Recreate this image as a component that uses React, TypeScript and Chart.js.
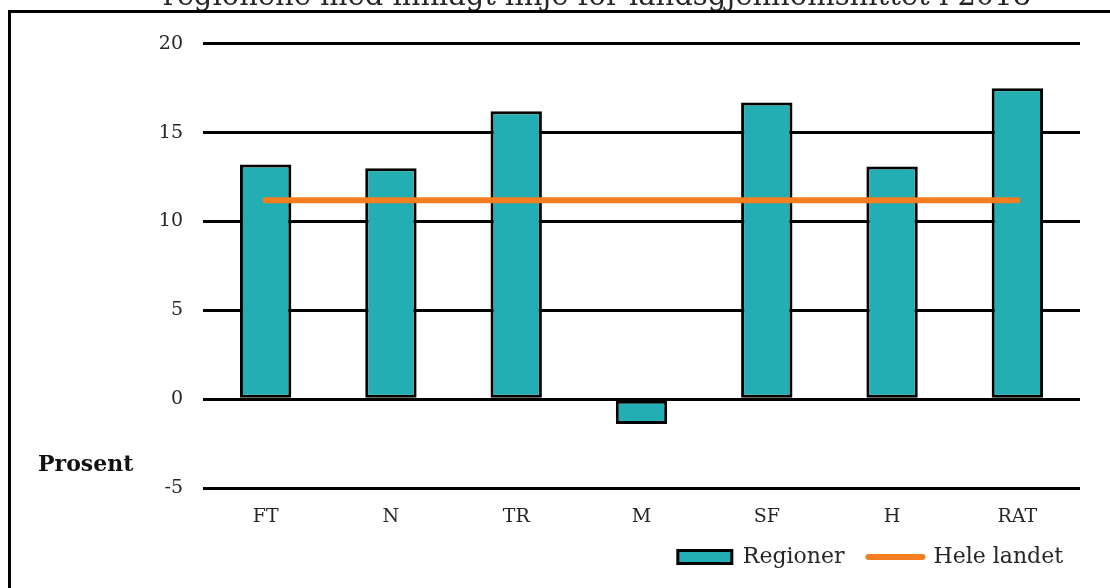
import React, { useEffect, useRef } from 'react';
import { Chart, registerables } from 'chart.js';

Chart.register(...registerables);

const titleText = 'regionene med innlagt linje for landsgjennomsnittet i 2018';
const categories = ['FT', 'N', 'TR', 'M', 'SF', 'H', 'RAT'];
const regionValues = [13.2, 13.0, 16.2, -1.4, 16.7, 13.1, 17.5];
const nationalValues = [11.2, 11.2, 11.2, 11.2, 11.2, 11.2, 11.2];
const seriesNames = ['Regioner', 'Hele landet'];
const yAxisLabel = 'Prosent';
const yMin = -5;
const yMax = 20;
const yStep = 5;

const FONT = '"DejaVu Serif", "Liberation Serif", serif';
const TEAL = '#22AEB2';
const ORANGE = '#F57E20';
const TEXT = '#262626';

export default function App() {
  const canvasRef = useRef<HTMLCanvasElement>(null);

  useEffect(() => {
    if (!canvasRef.current) return;

    const yLabelPlugin = {
      id: 'yLabelPlugin',
      afterDraw(chart: any) {
        const { ctx, chartArea } = chart;
        ctx.save();
        ctx.font = `bold 22px ${FONT}`;
        ctx.fillStyle = '#111';
        ctx.textAlign = 'left';
        ctx.textBaseline = 'middle';
        ctx.fillText(yAxisLabel, chartArea.left - 165, chartArea.bottom - 23);
        ctx.restore();
      },
    };

    const layoutTweak = {
      id: 'layoutTweak',
      afterLayout(chart: any) {
        const l = chart.legend;
        if (l) {
          l.left += 7;
          l.right += 7;
        }
        const x = chart.scales.x;
        if (x) {
          x.bottom = x.top + 50;
        }
      },
    };

    const chart = new Chart(canvasRef.current, {
      type: 'bar',
      data: {
        labels: categories,
        datasets: [
          {
            type: 'bar',
            label: seriesNames[0],
            data: regionValues,
            backgroundColor: TEAL,
            borderColor: '#000',
            borderWidth: 3,
            borderSkipped: false,
            barPercentage: 0.41,
            categoryPercentage: 1,
            order: 1,
            pointStyle: 'rect',
          } as any,
          {
            type: 'line',
            label: seriesNames[1],
            data: nationalValues,
            borderColor: ORANGE,
            backgroundColor: ORANGE,
            borderWidth: 6,
            borderCapStyle: 'round',
            pointRadius: 0,
            pointHoverRadius: 0,
            fill: false,
            order: 0,
            pointStyle: 'line',
          } as any,
        ],
      },
      options: {
        responsive: false,
        animation: false,
        devicePixelRatio: 1,
        layout: { padding: { left: 114, right: 30, top: 0, bottom: 10 } },
        plugins: {
          title: {
            display: true,
            text: titleText,
            color: TEXT,
            font: { family: FONT, size: 29, weight: 'normal' },
            padding: { top: 20, bottom: 29 },
          },
          legend: {
            display: true,
            position: 'bottom',
            align: 'end',
            labels: {
              usePointStyle: true,
              pointStyleWidth: 54,
              boxHeight: 13,
              padding: 24,
              color: TEXT,
              font: { family: FONT, size: 22 },
              sort: (a: any, b: any) => a.datasetIndex - b.datasetIndex,
              generateLabels: (chart: any) => {
                const items = (Chart.defaults.plugins.legend.labels as any).generateLabels(chart);
                items.forEach((it: any) => {
                  if (it.datasetIndex === 1) {
                    it.pointStyle = 'line';
                    it.lineWidth = 6;
                    it.strokeStyle = ORANGE;
                    it.lineCap = 'round';
                  } else {
                    it.pointStyle = 'rect';
                    it.lineWidth = 3;
                    it.strokeStyle = '#000';
                    it.fillStyle = TEAL;
                  }
                });
                return items;
              },
            },
          },
          tooltip: { enabled: false },
        },
        scales: {
          x: {
            grid: { display: false, drawTicks: false },
            border: { display: false },
            ticks: { color: TEXT, font: { family: FONT, size: 19 }, padding: 18 },
            afterFit: (scale: any) => {
              scale.height = 34;
            },
          },
          y: {
            min: yMin,
            max: yMax,
            grid: { color: '#000', lineWidth: 3, drawTicks: false },
            border: { display: false },
            ticks: { stepSize: yStep, color: TEXT, font: { family: FONT, size: 19 }, padding: 20 },
            afterFit: (scale: any) => {
              scale.width = 89;
            },
          },
        },
      } as any,
      plugins: [yLabelPlugin, layoutTweak],
    });

    return () => chart.destroy();
  }, []);

  return (
    <div
      style={{
        position: 'fixed',
        left: 0,
        top: 0,
        width: 1110,
        height: 588,
        overflow: 'hidden',
        background: '#fff',
      }}
    >
      <canvas
        ref={canvasRef}
        width={1110}
        height={628}
        style={{ position: 'absolute', left: 0, top: -40, width: 1110, height: 628 }}
      />
      <div
        style={{
          position: 'absolute',
          left: 8,
          top: 10,
          width: 1200,
          height: 700,
          border: '3px solid #000',
          boxSizing: 'border-box',
          pointerEvents: 'none',
        }}
      />
    </div>
  );
}
